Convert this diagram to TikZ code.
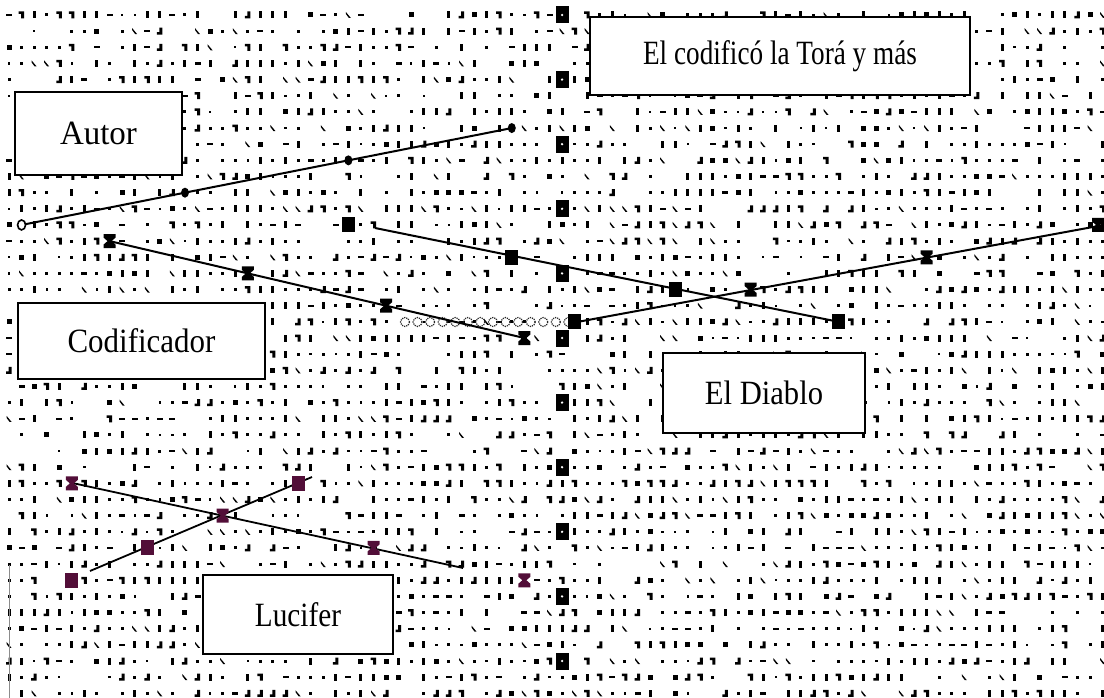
\documentclass[tikz,border=0pt]{standalone}
\usepackage{graphicx}
\usepackage{fontspec}
\setmainfont{Liberation Serif}
\usetikzlibrary{shapes.geometric}
\definecolor{lucif}{RGB}{82,14,56}
\tikzset{
  glyph/.style={fill=black},
  lbl/.style={draw=black, line width=2.2pt, fill=white, inner sep=0pt, font=\fontsize{34}{40}\selectfont},
  conn/.style={line width=2pt, draw=black},
  sqm/.style={fill=#1, minimum width=13pt, minimum height=15pt, inner sep=0pt},
  sqm/.default=black,
  colsq/.style={fill=black, minimum width=13pt, minimum height=17pt, inner sep=0pt,
    path picture={\fill[white] (path picture bounding box.center) circle (1.3pt);}},
  hg/.style={minimum width=12pt, minimum height=14pt, inner sep=0pt,
    path picture={\fill[#1] ([yshift=0pt]path picture bounding box.north west) -- (path picture bounding box.north east)
      -- ([yshift=-3.5pt]path picture bounding box.north east)
      -- ([xshift=2pt]path picture bounding box.center)
      -- ([yshift=3.5pt]path picture bounding box.south east)
      -- (path picture bounding box.south east)
      -- (path picture bounding box.south west)
      -- ([yshift=3.5pt]path picture bounding box.south west)
      -- ([xshift=-2pt]path picture bounding box.center)
      -- ([yshift=-3.5pt]path picture bounding box.north west) -- cycle;}},
  hg/.default=black,
  am/.style={fill=black, ellipse, minimum width=8pt, minimum height=10pt, inner sep=0pt},
  band/.style={densely dotted, draw=black!85, line width=1.2pt}
}
\begin{document}
\begin{tikzpicture}[x=1pt,y=-1pt]
\useasboundingbox[fill=white] (0,0) rectangle (1104,698);
\pgfmathsetseed{4711}
% letter grid
\foreach \j in {0,...,42}{
  \foreach \i in {0,...,87}{
    \pgfmathsetmacro\xx{9+12.57*\i}
    \pgfmathsetmacro\yy{15+16.15*\j}
    \pgfmathrandominteger{\k}{0}{14}
    \ifcase\k
      \fill[glyph] (\xx-1.5,\yy-1.5) rectangle (\xx+1.5,\yy+1.5);
    \or \fill[glyph] (\xx-1.5,\yy-3.5) rectangle (\xx+1.5,\yy+3.5);
    \or \fill[glyph] (\xx-1.5,\yy-3.5) rectangle (\xx+1.5,\yy+3.5);
    \or \fill[glyph] (\xx-2.5,\yy-2.5) rectangle (\xx+2.5,\yy+2.5);
    \or \fill[glyph] (\xx-1.5,\yy-1.5) rectangle (\xx+1.5,\yy+1.5);
    \or \fill[glyph] (\xx-3,\yy-3.5) rectangle (\xx+2.5,\yy-1) (\xx-0.5,\yy-3.5) rectangle (\xx+2.5,\yy+3.5);
    \or \fill[glyph] (\xx-3,\yy-1.2) rectangle (\xx+3,\yy+1.2);
    \or \fill[glyph] (\xx-1.5,\yy-3.5) rectangle (\xx+1.5,\yy+3.5);
    \or \fill[glyph] (\xx-1.2,\yy-1.2) rectangle (\xx+1.2,\yy+1.2);
    \or \fill[glyph] (\xx-3,\yy+1) rectangle (\xx+2.5,\yy+3.5) (\xx-0.5,\yy-3.5) rectangle (\xx+2.5,\yy+3.5);
    \or \fill[glyph] (\xx-1.5,\yy-1.5) rectangle (\xx+1.5,\yy+1.5);
    \or \fill[glyph] (\xx-2.5,\yy-3) -- (\xx+2.5,\yy+3) -- (\xx+0.5,\yy+3) -- (\xx-2.5,\yy-1) -- cycle;
    \else
    \fi
  }
}
% left edge line
\draw[black!45, line width=0.8pt] (9,565) -- (9,698);
% dotted band (highlighted letters)
\foreach \t in {0,...,13}{
  \draw[band] (405+12.57*\t,322) circle (4.5);
}
% coordinates
\coordinate (a0) at (21.57,224.95);
\coordinate (a3) at (511.8,128.05);
\coordinate (c0) at (109.56,241.1);
\coordinate (c3) at (524.37,338);
\coordinate (d0) at (375,228);
\coordinate (d3) at (838.62,321.85);
\coordinate (e0) at (578,321.85);
\coordinate (e3) at (1104,224.95);
\coordinate (la0) at (74,483.35);
\coordinate (la1) at (463,568);
\coordinate (lb0) at (90,571);
\coordinate (lb1) at (312,477);
% connectors
\draw[conn] (a0) -- (a3);
\draw[conn] (c0) -- (c3);
\draw[conn] (d0) -- (d3);
\draw[conn] (e0) -- (e3);
\draw[conn, line width=1.8pt] (la0) -- (la1);
\draw[conn, line width=1.8pt] (lb0) -- (lb1);
% Autor markers
\node[am, fill=white, draw=black, line width=1.6pt] (am0) at (a0) {};
\node[am] (am1) at (184.98,192.65) {};
\node[am] (am2) at (348.39,160.35) {};
\node[am] (am3) at (a3) {};
% Codificador markers
\node[hg] (cm0) at (c0) {};
\node[hg] (cm1) at (247.83,273.4) {};
\node[hg] (cm2) at (386.1,305.7) {};
\node[hg] (cm3) at (c3) {};
% Diablo markers
\node[sqm] (dm0) at (348.39,224.95) {};
\node[sqm] (dm1) at (511.8,257.25) {};
\node[sqm] (dm2) at (675.21,289.55) {};
\node[sqm] (dm3) at (d3) {};
% right line markers
\node[sqm] (em0) at (574.65,321.85) {};
\node[hg] (em1) at (750.63,289.55) {};
\node[hg] (em2) at (926.61,257.25) {};
\node[hg] (em3) at (1098,224.95) {};
% Lucifer markers
\node[hg=lucif] (lh0) at (71.85,483.35) {};
\node[hg=lucif] (lh1) at (222.69,515.65) {};
\node[hg=lucif] (lh2) at (373.53,547.95) {};
\node[hg=lucif] (lh3) at (524.37,580.25) {};
\node[sqm=lucif] (ls0) at (71.85,580.25) {};
\node[sqm=lucif] (ls1) at (147.27,547.95) {};
\node[sqm=lucif] (ls2) at (298.11,483.35) {};
% column of squares
\foreach \r in {0,4,...,40}{
  \node[colsq] (col\r) at (562.08,15+16.15*\r) {};
}
% labels
\node[lbl, minimum width=167pt, minimum height=83pt] (autor) at (98.5,133.5) {\scalebox{0.97}[1]{Autor}};
\node[lbl, minimum width=380pt, minimum height=78pt] (tora) at (780,56) {\scalebox{0.8}[1]{El codificó la Torá y más}};
\node[lbl, minimum width=247pt, minimum height=76pt] (codif) at (141.5,341) {\scalebox{0.91}[1]{Codificador}};
\node[lbl, minimum width=202pt, minimum height=80pt] (diablo) at (764,393) {\scalebox{0.9}[1]{El Diablo}};
\node[lbl, minimum width=190pt, minimum height=79pt] (lucifer) at (298,614.5) {\scalebox{0.86}[1]{Lucifer}};
\end{tikzpicture}
\end{document}
